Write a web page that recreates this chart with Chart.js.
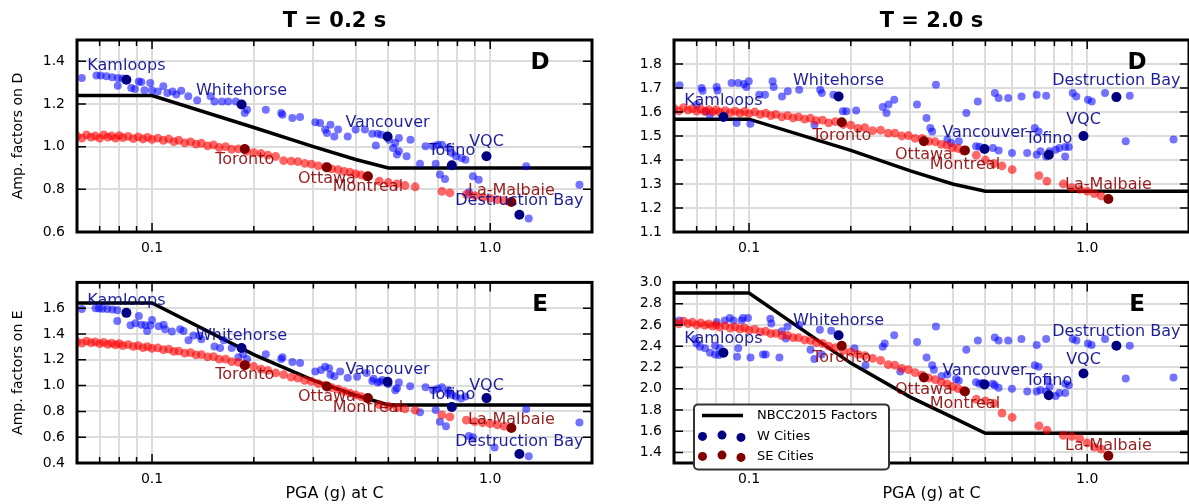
<!DOCTYPE html>
<html>
<head>
<meta charset="utf-8">
<script src="https://cdn.jsdelivr.net/npm/chart.js@4.4.1/dist/chart.umd.min.js"></script>
<style>
  html, body { margin: 0; padding: 0; background: #fff; overflow: hidden; }
  #wrap { position: relative; width: 1189px; height: 504px; overflow: hidden; }
  canvas { position: absolute; }
</style>
</head>
<body>
<div id="wrap">
  <canvas id="tl" width="600" height="262" style="left:0;top:0"></canvas>
  <canvas id="tr" width="600" height="262" style="left:597px;top:0"></canvas>
  <canvas id="bl" width="600" height="242" style="left:0;top:262px"></canvas>
  <canvas id="br" width="600" height="242" style="left:597px;top:262px"></canvas>
</div>
<script>
// x axis (PGA at C, log)
const xTicks = [0.06, 0.07, 0.08, 0.09, 0.1, 0.2, 0.3, 0.4, 0.5, 0.6, 0.7, 0.8, 0.9, 1, 2];
const xMajor = [0.1, 1];

const yTicksD02 = [0.6, 0.8, 1.0, 1.2, 1.4];
const yTicksE02 = [0.4, 0.6, 0.8, 1.0, 1.2, 1.4, 1.6];
const yTicksD20 = [1.1, 1.2, 1.3, 1.4, 1.5, 1.6, 1.7, 1.8];
const yTicksE20 = [1.4, 1.6, 1.8, 2.0, 2.2, 2.4, 2.6, 2.8, 3.0];

// NBCC2015 factors
const nbccX = [0.06, 0.1, 0.2, 0.3, 0.4, 0.5, 2.0];
const nbccD02 = [1.24, 1.24, 1.09, 1.00, 0.94, 0.90, 0.90];
const nbccE02 = [1.64, 1.64, 1.24, 1.04, 0.925, 0.85, 0.85];
const nbccD20 = [1.57, 1.57, 1.44, 1.355, 1.30, 1.27, 1.27];
const nbccE20 = [2.90, 2.90, 2.24, 1.92, 1.73, 1.58, 1.58];

// named cities
const wCityNames = ['Kamloops', 'Whitehorse', 'Vancouver', 'Tofino', 'VQC', 'Destruction Bay'];
const wCityX = [0.084, 0.184, 0.497, 0.77, 0.975, 1.22];
const wCityD02 = [1.314, 1.198, 1.048, 0.9125, 0.955, 0.681];
const wCityE02 = [1.564, 1.291, 1.029, 0.835, 0.903, 0.47];
const wCityD20 = [1.579, 1.665, 1.446, 1.422, 1.50, 1.662];
const wCityE20 = [2.337, 2.503, 2.04, 1.938, 2.142, 2.404];

const seCityNames = ['Toronto', 'Ottawa', 'Montreal', 'La-Malbaie'];
const seCityAbove = [false, false, false, true];
const seCityX = [0.188, 0.329, 0.435, 1.155];
const seCityD02 = [0.989, 0.903, 0.861, 0.741];
const seCityE02 = [1.158, 0.993, 0.903, 0.672];
const seCityD20 = [1.557, 1.478, 1.44, 1.2375];
const seCityE20 = [2.404, 2.104, 1.973, 1.368];

// SE sites
const seX = [0.060, 0.062, 0.064, 0.066, 0.068, 0.070, 0.072, 0.074, 0.076, 0.078,
  0.080, 0.082, 0.085, 0.088, 0.091, 0.094, 0.097, 0.100, 0.104, 0.108,
  0.112, 0.116, 0.120, 0.125, 0.130, 0.135, 0.140, 0.146, 0.152, 0.158,
  0.165, 0.172, 0.180, 0.190, 0.200, 0.210, 0.220, 0.232, 0.245, 0.258,
  0.270, 0.283, 0.296, 0.310, 0.325, 0.340, 0.355, 0.370, 0.385, 0.400,
  0.415, 0.430, 0.47, 0.50, 0.53, 0.56, 0.60, 0.72, 0.76, 0.85,
  0.90, 0.95, 1.00, 1.05, 1.10];
const seD02 = [1.05, 1.04, 1.055, 1.045, 1.05, 1.04, 1.055, 1.045, 1.05, 1.04,
  1.052, 1.042, 1.048, 1.038, 1.046, 1.036, 1.044, 1.034, 1.04, 1.03,
  1.036, 1.024, 1.03, 1.018, 1.022, 1.012, 1.016, 1.004, 1.008, 0.996,
  1.0, 0.988, 0.99, 0.978, 0.972, 0.968, 0.96, 0.954, 0.935, 0.932,
  0.93, 0.922, 0.918, 0.91, 0.905, 0.896, 0.892, 0.884, 0.88, 0.872,
  0.868, 0.86, 0.838, 0.832, 0.826, 0.818, 0.812, 0.79, 0.783, 0.776,
  0.77, 0.762, 0.758, 0.752, 0.748];
const seE02 = [1.34, 1.33, 1.345, 1.332, 1.338, 1.325, 1.335, 1.32, 1.33, 1.315,
  1.325, 1.31, 1.318, 1.303, 1.31, 1.295, 1.302, 1.288, 1.292, 1.278,
  1.282, 1.266, 1.268, 1.252, 1.255, 1.238, 1.24, 1.222, 1.225, 1.206,
  1.205, 1.185, 1.18, 1.16, 1.148, 1.128, 1.118, 1.098, 1.085, 1.065,
  1.058, 1.04, 1.032, 1.015, 1.002, 0.985, 0.972, 0.955, 0.942, 0.928,
  0.915, 0.9, 0.852, 0.84, 0.83, 0.82, 0.81, 0.772, 0.757, 0.733,
  0.72, 0.712, 0.705, 0.695, 0.685];
const seD20 = [1.615, 1.605, 1.618, 1.608, 1.614, 1.604, 1.612, 1.602, 1.61, 1.6,
  1.609, 1.599, 1.606, 1.597, 1.604, 1.595, 1.602, 1.593, 1.6, 1.59,
  1.595, 1.585, 1.59, 1.58, 1.585, 1.575, 1.58, 1.57, 1.574, 1.564,
  1.566, 1.555, 1.56, 1.548, 1.545, 1.532, 1.535, 1.522, 1.524, 1.512,
  1.512, 1.5, 1.502, 1.49, 1.49, 1.478, 1.476, 1.465, 1.462, 1.452,
  1.448, 1.438, 1.42, 1.40, 1.385, 1.375, 1.36, 1.335, 1.312, 1.30,
  1.285, 1.278, 1.27, 1.26, 1.25];
const seE20 = [2.63, 2.61, 2.635, 2.612, 2.625, 2.6, 2.618, 2.595, 2.61, 2.588,
  2.6, 2.58, 2.592, 2.57, 2.582, 2.56, 2.572, 2.55, 2.558, 2.535,
  2.54, 2.518, 2.52, 2.5, 2.502, 2.48, 2.48, 2.458, 2.455, 2.432,
  2.425, 2.40, 2.385, 2.36, 2.345, 2.322, 2.31, 2.285, 2.265, 2.225,
  2.22, 2.19, 2.178, 2.15, 2.128, 2.1, 2.085, 2.06, 2.045, 2.02,
  2.0, 1.98, 1.9, 1.885, 1.86, 1.77, 1.73, 1.65, 1.61, 1.56,
  1.55, 1.53, 1.49, 1.45, 1.43];

// W sites [pga, factor]
const wD02 = [[0.062,1.322],[0.0685,1.334],[0.0705,1.334],[0.0733,1.33],[0.0762,1.325],[0.0792,1.322],
  [0.0792,1.286],[0.0818,1.319],[0.0868,1.275],[0.089,1.27],[0.0914,1.306],[0.093,1.303],[0.095,1.264],
  [0.0988,1.298],[0.1,1.264],[0.104,1.259],[0.108,1.283],[0.111,1.252],[0.115,1.259],[0.118,1.244],
  [0.122,1.262],[0.128,1.236],[0.136,1.217],[0.149,1.236],[0.153,1.212],[0.161,1.212],[0.168,1.212],
  [0.177,1.212],[0.188,1.158],[0.191,1.173],[0.217,1.173],[0.241,1.158],[0.243,1.15],[0.26,1.134],
  [0.274,1.139],[0.304,1.114],[0.314,1.111],[0.325,1.08],[0.329,1.064],[0.337,1.103],[0.346,1.048],
  [0.355,1.08],[0.379,1.048],[0.40,1.08],[0.426,1.08],[0.448,1.061],[0.459,1.005],[0.465,1.061],
  [0.476,1.056],[0.502,1.033],[0.516,0.994],[0.524,1.017],[0.53,0.963],[0.537,1.041],[0.537,0.978],
  [0.566,0.955],[0.581,1.033],[0.62,0.92],[0.644,1.002],[0.678,1.002],[0.69,0.92],[0.70,1.009],
  [0.71,0.869],[0.72,1.009],[0.735,0.848],[0.752,0.994],[0.77,0.97],[0.792,0.955],[0.823,0.947],
  [0.845,0.939],[0.865,0.786],[0.889,0.861],[0.925,0.845],[1.278,0.908],[1.30,0.663],[1.836,0.822]];
const wE02 = [[0.062,1.593],[0.0681,1.6],[0.0697,1.598],[0.0713,1.595],[0.0737,1.594],[0.0763,1.59],
  [0.0789,1.585],[0.0789,1.50],[0.0864,1.467],[0.0893,1.484],[0.0914,1.54],[0.093,1.472],[0.0956,1.467],
  [0.0967,1.424],[0.0989,1.467],[0.1,1.508],[0.1046,1.46],[0.1082,1.472],[0.1094,1.436],[0.1145,1.419],
  [0.1211,1.436],[0.1239,1.424],[0.1282,1.352],[0.1326,1.388],[0.138,1.389],[0.14,1.36],[0.153,1.304],
  [0.159,1.292],[0.163,1.352],[0.172,1.292],[0.18,1.219],[0.186,1.243],[0.191,1.206],[0.217,1.243],
  [0.241,1.206],[0.243,1.219],[0.26,1.182],[0.274,1.175],[0.304,1.109],[0.316,1.121],[0.325,1.146],
  [0.334,1.134],[0.337,1.085],[0.346,1.073],[0.36,1.109],[0.379,1.061],[0.404,1.068],[0.431,1.097],
  [0.448,1.036],[0.452,1.053],[0.465,1.025],[0.472,1.03],[0.48,1.044],[0.50,1.012],[0.524,0.964],
  [0.53,0.98],[0.537,1.024],[0.58,0.995],[0.62,0.794],[0.644,0.988],[0.678,0.964],[0.69,0.81],
  [0.70,0.976],[0.71,0.72],[0.72,0.988],[0.74,0.685],[0.75,0.94],[0.752,0.964],[0.77,0.93],
  [0.792,0.915],[0.82,0.9],[0.845,0.915],[0.865,0.61],[0.889,0.6],[1.03,0.52],[1.278,0.818],
  [1.30,0.453],[1.836,0.713]];
const wD20 = [[0.0623,1.711],[0.07,1.63],[0.0724,1.70],[0.0729,1.689],[0.0746,1.603],[0.0766,1.589],
  [0.0802,1.704],[0.0807,1.69],[0.0888,1.721],[0.0919,1.554],[0.0929,1.721],[0.0965,1.717],[0.0982,1.704],
  [0.0998,1.728],[0.1009,1.551],[0.1072,1.672],[0.1115,1.672],[0.1174,1.728],[0.1183,1.704],[0.1252,1.665],
  [0.1302,1.686],[0.1407,1.693],[0.1561,1.547],[0.1623,1.693],[0.1642,1.679],[0.1776,1.672],[0.1895,1.603],
  [0.194,1.603],[0.2074,1.606],[0.2486,1.621],[0.255,1.596],[0.2585,1.631],[0.2687,1.651],[0.3138,1.631],
  [0.3348,1.575],[0.3436,1.533],[0.348,1.519],[0.357,1.714],[0.3859,1.485],[0.396,1.471],[0.4172,1.478],
  [0.4392,1.596],[0.4692,1.457],[0.4748,1.644],[0.48,1.455],[0.5264,1.45],[0.5333,1.679],[0.5472,1.658],
  [0.5472,1.44],[0.5839,1.658],[0.5992,1.429],[0.6393,1.665],[0.6646,1.429],[0.6998,1.533],[0.709,1.672],
  [0.709,1.422],[0.7182,1.519],[0.7274,1.436],[0.7563,1.668],[0.7563,1.415],[0.774,1.436],[0.8068,1.443],
  [0.8274,1.45],[0.8607,1.454],[0.8607,1.415],[0.8822,1.454],[0.9064,1.679],[0.9286,1.665],[1.005,1.651],
  [1.0315,1.644],[1.129,1.679],[1.30,1.478],[1.336,1.668],[1.80,1.485]];
const wE20 = [[0.0623,2.642],[0.0692,2.468],[0.07,2.424],[0.0716,2.395],[0.0741,2.38],[0.0767,2.337],
  [0.0794,2.322],[0.0815,2.316],[0.0794,2.404],[0.082,2.38],[0.0802,2.628],[0.0848,2.642],[0.0877,2.665],
  [0.0899,2.642],[0.0922,2.299],[0.0929,2.38],[0.095,2.642],[0.096,2.665],[0.0993,2.665],[0.101,2.293],
  [0.110,2.322],[0.112,2.322],[0.1156,2.657],[0.1164,2.613],[0.123,2.293],[0.125,2.54],[0.1285,2.473],
  [0.130,2.584],[0.1407,2.6],[0.152,2.366],[0.156,2.278],[0.162,2.555],[0.164,2.322],[0.175,2.546],
  [0.205,2.38],[0.221,2.22],[0.2486,2.395],[0.252,2.424],[0.2687,2.503],[0.28,2.162],[0.314,2.439],
  [0.335,2.293],[0.348,2.22],[0.352,2.177],[0.357,2.584],[0.371,2.118],[0.386,2.133],[0.41,2.09],
  [0.417,2.075],[0.439,2.366],[0.469,2.06],[0.475,2.453],[0.48,2.046],[0.49,2.052],[0.526,2.046],
  [0.533,2.482],[0.533,2.031],[0.547,2.453],[0.547,2.008],[0.584,2.453],[0.599,2.0],[0.639,2.468],
  [0.665,1.973],[0.70,2.22],[0.709,1.973],[0.709,2.41],[0.718,2.206],[0.727,1.988],[0.756,1.973],
  [0.756,2.468],[0.765,2.075],[0.774,2.017],[0.807,1.93],[0.827,1.96],[0.861,2.046],[0.861,1.96],
  [0.882,2.031],[0.906,2.468],[0.929,2.453],[1.005,2.424],[1.03,2.41],[1.129,2.468],[1.30,2.095],
  [1.336,2.404],[1.80,2.104]];

Chart.defaults.font.family = '"DejaVu Sans"';
Chart.defaults.color = '#000';

const panels = [
  { id: 'tl', title: 'T = 0.2 s', letter: 'D', ylab: 'Amp. factors on D', ymin: 0.6, ymax: 1.5, yTicks: yTicksD02,
    nbcc: nbccD02, se: seD02, w: wD02, wc: wCityD02, sc: seCityD02, padTop: 40, padRight: 4, xh: 30, dy: [-14, 11, -11] },
  { id: 'tr', title: 'T = 2.0 s', letter: 'D', ylab: '', ymin: 1.1, ymax: 1.9, yTicks: yTicksD20,
    nbcc: nbccD20, se: seD20, w: wD20, wc: wCityD20, sc: seCityD20, padTop: 40, padRight: 5, xh: 30, dy: [-16, 14, -14] },
  { id: 'bl', title: '', letter: 'E', ylab: 'Amp. factors on E', ymin: 0.4, ymax: 1.8, yTicks: yTicksE02,
    nbcc: nbccE02, se: seE02, w: wE02, wc: wCityE02, sc: seCityE02, padTop: 8, padRight: 4, xh: 41, bottom: true, dy: [-12, 10, -8] },
  { id: 'br', title: '', letter: 'E', ylab: '', ymin: 1.3, ymax: 3.0, yTicks: yTicksE20,
    nbcc: nbccE20, se: seE20, w: wE20, wc: wCityE20, sc: seCityE20, padTop: 8, padRight: 5, xh: 41, bottom: true, legend: true, dy: [-14, 12, -10] }
];

function extrasFor(p) {
  return {
    id: 'extras',
    afterDraw(chart) {
      const { ctx, chartArea: a, scales: { x, y } } = chart;
      ctx.save();
      // inward ticks on all sides
      ctx.strokeStyle = '#000';
      ctx.lineWidth = 1.5;
      ctx.beginPath();
      xTicks.forEach(v => {
        const px = x.getPixelForValue(v);
        const len = xMajor.includes(v) ? 9 : 6;
        ctx.moveTo(px, a.bottom); ctx.lineTo(px, a.bottom - len);
        ctx.moveTo(px, a.top); ctx.lineTo(px, a.top + len);
      });
      p.yTicks.forEach(v => {
        const py = y.getPixelForValue(v);
        ctx.moveTo(a.left, py); ctx.lineTo(a.left + 9, py);
        ctx.moveTo(a.right, py); ctx.lineTo(a.right - 9, py);
      });
      ctx.stroke();
      // frame
      ctx.lineWidth = 3;
      ctx.strokeRect(a.left, a.top, a.right - a.left, a.bottom - a.top);

      ctx.textAlign = 'center';
      ctx.textBaseline = 'middle';
      ctx.fillStyle = '#000';
      ctx.font = 'bold 23px "DejaVu Sans"';
      ctx.fillText(p.letter, a.right - 52, a.top + 23);

      // city labels
      ctx.font = '16px "DejaVu Sans"';
      ctx.fillStyle = 'rgba(0,0,139,0.88)';
      wCityNames.forEach((n, i) => {
        ctx.fillText(n, x.getPixelForValue(wCityX[i]), y.getPixelForValue(p.wc[i]) + p.dy[0]);
      });
      ctx.fillStyle = 'rgba(139,0,0,0.88)';
      seCityNames.forEach((n, i) => {
        const dy = seCityAbove[i] ? p.dy[2] : p.dy[1];
        ctx.fillText(n, x.getPixelForValue(seCityX[i]), y.getPixelForValue(p.sc[i]) + dy);
      });

      if (p.title) {
        ctx.fillStyle = '#000';
        ctx.font = 'bold 21px "DejaVu Sans"';
        ctx.textBaseline = 'alphabetic';
        ctx.fillText(p.title, (a.left + a.right) / 2, 26.5);
      }

      if (p.legend) {
        const lx = a.left + 20, ly = a.top + 122, lw = 195, lh = 65;
        ctx.beginPath();
        ctx.roundRect(lx, ly, lw, lh, 4);
        ctx.fillStyle = '#fff';
        ctx.fill();
        ctx.lineWidth = 2;
        ctx.strokeStyle = '#333';
        ctx.stroke();
        ctx.beginPath();
        ctx.moveTo(lx + 8, ly + 11); ctx.lineTo(lx + 49, ly + 11);
        ctx.lineWidth = 3.5;
        ctx.strokeStyle = '#000';
        ctx.stroke();
        ctx.font = '13px "DejaVu Sans"';
        ctx.textAlign = 'left';
        ctx.textBaseline = 'middle';
        ctx.fillStyle = '#000';
        ctx.fillText('NBCC2015 Factors', lx + 63, ly + 11);
        ctx.fillText('W Cities', lx + 63, ly + 32);
        ctx.fillText('SE Cities', lx + 63, ly + 52);
        const offs = [0, -1.3, 1];
        [['#000080', 32], ['#800000', 52]].forEach(([c, ry]) => {
          ctx.fillStyle = c;
          [8.5, 28, 47].forEach((dx, k) => {
            ctx.beginPath();
            ctx.arc(lx + dx, ly + ry + offs[k], 4.5, 0, Math.PI * 2);
            ctx.fill();
          });
        });
      }
      ctx.restore();
    }
  };
}

panels.forEach(p => {
  const datasets = [
    { label: 'NBCC2015 Factors', data: nbccX.map((x, i) => ({ x, y: p.nbcc[i] })), showLine: true,
      borderColor: '#000', borderWidth: 3.5, pointRadius: 0, order: 5, clip: 0 },
    { label: 'W sites', data: p.w.map(([x, y]) => ({ x, y })), backgroundColor: 'rgba(0,0,255,0.55)',
      borderWidth: 0, pointRadius: 4, order: 4, clip: 0 },
    { label: 'SE sites', data: seX.map((x, i) => ({ x, y: p.se[i] })), backgroundColor: 'rgba(255,0,0,0.6)',
      borderWidth: 0, pointRadius: 4.4, order: 3, clip: 0 },
    { label: 'W Cities', data: wCityX.map((x, i) => ({ x, y: p.wc[i] })), backgroundColor: '#000080',
      borderWidth: 0, pointRadius: 5, order: 2, clip: 0 },
    { label: 'SE Cities', data: seCityX.map((x, i) => ({ x, y: p.sc[i] })), backgroundColor: '#800000',
      borderWidth: 0, pointRadius: 5, order: 1, clip: 0 }
  ];

  new Chart(document.getElementById(p.id), {
    type: 'scatter',
    data: { datasets },
    options: {
      responsive: false,
      animation: false,
      events: [],
      layout: { padding: { top: p.padTop, right: p.padRight, left: 0, bottom: 0 } },
      plugins: { legend: { display: false }, tooltip: { enabled: false } },
      scales: {
        x: {
          type: 'logarithmic', min: 0.06, max: 2.0,
          afterBuildTicks: s => { s.ticks = xTicks.map(v => ({ value: v })); },
          afterFit: s => { s.height = p.xh; },
          ticks: { autoSkip: false, maxRotation: 0, padding: 8, font: { size: 14 },
            callback: v => (v === 0.1 ? '0.1' : v === 1 ? '1.0' : '') },
          grid: { color: '#dcdcdc', lineWidth: 2, drawTicks: false },
          border: { display: false },
          title: p.bottom
            ? { display: true, text: 'PGA (g) at C', font: { size: 16 }, padding: { top: 0, bottom: 1 } }
            : { display: false }
        },
        y: {
          min: p.ymin, max: p.ymax,
          afterBuildTicks: s => { s.ticks = p.yTicks.map(v => ({ value: v })); },
          afterFit: s => { s.width = 77; },
          ticks: { padding: 12, font: { size: 14 }, callback: v => Number(v).toFixed(1) },
          grid: { color: '#dcdcdc', lineWidth: 2, drawTicks: false },
          border: { display: false },
          title: p.ylab
            ? { display: true, text: p.ylab, font: { size: 14 }, padding: { top: 10, bottom: 10 } }
            : { display: false }
        }
      }
    },
    plugins: [extrasFor(p)]
  });
});
</script>
</body>
</html>
